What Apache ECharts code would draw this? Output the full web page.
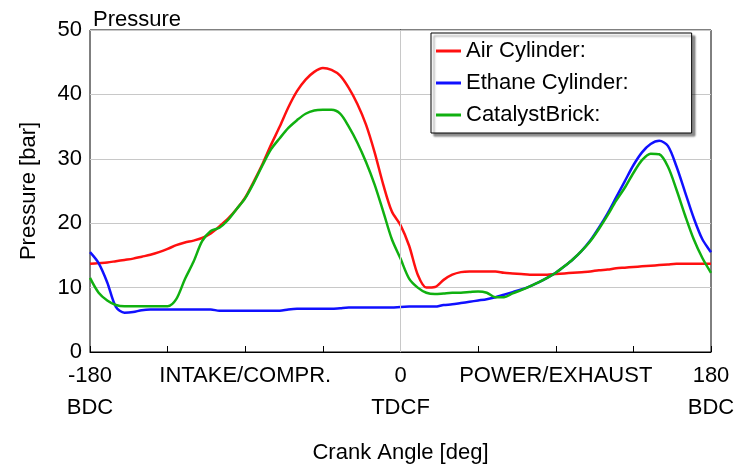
<!DOCTYPE html>
<html>
<head>
<meta charset="utf-8">
<script src="https://cdn.jsdelivr.net/npm/echarts@6/dist/echarts.min.js"></script>
<style>
  html, body { margin: 0; padding: 0; background: #fff; }
  #chart { width: 743px; height: 469px; }
</style>
</head>
<body>
<div id="chart"></div>
<script>
//crank angle, every 5 degrees
var angles = [];
for (var a = -180; a <= 180; a += 5) angles.push(a);

//pressure values [bar]
var airCylinder = [
    13.7, 13.8, 13.9, 14.1, 14.3, 14.5, 14.8, 15.1, 15.5, 16.0,
    16.6, 17.0, 17.3, 17.7, 18.4, 19.5, 20.7, 22.2, 24.0, 26.5,
    29.2, 32.2, 35.0, 38.0, 40.5, 42.3, 43.5, 44.1, 43.8, 42.9,
    41.0, 38.5, 35.3, 31.0, 26.0, 21.8, 19.7, 16.5, 12.0, 10.0,
    10.1, 11.2, 12.0, 12.4, 12.5, 12.5, 12.5, 12.5, 12.3, 12.2,
    12.1, 12.0, 12.0, 12.0, 12.1, 12.2, 12.3, 12.4, 12.5, 12.7,
    12.8, 13.0, 13.1, 13.2, 13.3, 13.4, 13.5, 13.6, 13.7, 13.7,
    13.7, 13.7, 13.7
];
var ethaneCylinder = [
    15.5, 13.8, 10.8, 7.0, 6.1, 6.2, 6.5, 6.6, 6.6, 6.6,
    6.6, 6.6, 6.6, 6.6, 6.6, 6.4, 6.4, 6.4, 6.4, 6.4,
    6.4, 6.4, 6.4, 6.6, 6.7, 6.7, 6.7, 6.7, 6.7, 6.8,
    6.9, 6.9, 6.9, 6.9, 6.9, 6.9, 7.0, 7.05, 7.05, 7.05,
    7.05, 7.3, 7.4, 7.6, 7.8, 8.0, 8.2, 8.5, 8.9, 9.3,
    9.7, 10.2, 10.8, 11.5, 12.3, 13.3, 14.4, 15.7, 17.3, 19.3,
    21.5, 24.0, 26.5, 29.0, 31.0, 32.3, 32.8, 32.0, 28.8, 24.8,
    20.8, 17.5, 15.5
];
var catalystBrick = [
    11.5, 9.2, 8.0, 7.3, 7.1, 7.1, 7.1, 7.1, 7.1, 7.1,
    8.2, 11.3, 14.0, 17.2, 18.8, 19.3, 20.5, 22.2, 23.9, 26.3,
    29.0, 31.5, 33.2, 34.8, 36.0, 37.0, 37.5, 37.6, 37.6, 37.0,
    35.0, 32.5, 29.5, 26.0, 21.8, 17.5, 14.5, 11.4, 10.0, 9.2,
    9.0, 9.1, 9.2, 9.2, 9.3, 9.4, 9.2, 8.5, 8.5, 9.1,
    9.6, 10.2, 10.8, 11.5, 12.3, 13.3, 14.4, 15.7, 17.2, 19.1,
    21.2, 23.5, 25.5, 27.8, 29.8, 30.8, 30.7, 28.8, 25.2, 21.2,
    17.5, 14.6, 12.3
];

//x axis tick labels
var tickLabels = {
    '-180': '-180\nBDC',
    '-90': 'INTAKE/COMPR.',
    '0': '0\nTDCF',
    '90': 'POWER/EXHAUST',
    '180': '180\nBDC'
};

var font = "'Liberation Sans', Arial, sans-serif";

function pairs(values) {
    return angles.map(function (a, i) { return [a, values[i]]; });
}

function lineSeries(name, color, values) {
    return {
        name: name,
        type: 'line',
        data: pairs(values),
        symbol: 'none',
        smooth: 0.3,
        color: color,
        lineStyle: { width: 2.5, color: color }
    };
}

var chart = echarts.init(document.getElementById('chart'));
var series = [
    lineSeries('Air Cylinder:', '#ff1010', airCylinder),
    lineSeries('Ethane Cylinder:', '#1010ff', ethaneCylinder),
    lineSeries('CatalystBrick:', '#10b010', catalystBrick)
];
//vertical grid line at TDC only
series[0].markLine = {
    silent: true,
    symbol: 'none',
    label: { show: false },
    lineStyle: { color: '#c8c8c8', width: 1, type: 'solid' },
    data: [{ xAxis: 0 }]
};

chart.setOption({
    animation: false,
    textStyle: { fontFamily: font },
    title: {
        text: 'Pressure',
        left: 88,
        top: 4,
        textStyle: { fontSize: 22, fontWeight: 'normal', color: '#000', fontFamily: font }
    },
    legend: {
        orient: 'vertical',
        left: 431,
        top: 33,
        padding: [7, 63, 7, 5],
        itemGap: 10,
        itemWidth: 25,
        itemHeight: 3,
        icon: 'rect',
        backgroundColor: '#fff',
        borderColor: '#000',
        borderWidth: 1,
        borderRadius: 0,
        shadowColor: 'rgba(0,0,0,0.45)',
        shadowBlur: 2,
        shadowOffsetX: 3,
        shadowOffsetY: 3,
        textStyle: { fontSize: 22, color: '#000', fontFamily: font, height: 22, lineHeight: 22 }
    },
    grid: {
        left: 90,
        right: 32,
        top: 30,
        bottom: 116,
        show: true,
        borderColor: '#000',
        borderWidth: 1
    },
    xAxis: {
        type: 'value',
        min: -180,
        max: 180,
        interval: 45,
        name: 'Crank Angle [deg]',
        nameLocation: 'middle',
        nameGap: 90,
        nameTextStyle: { fontSize: 22, color: '#000', fontFamily: font },
        axisLine: { lineStyle: { color: '#000', width: 1 } },
        axisTick: { inside: true, length: 6, lineStyle: { color: '#000' } },
        splitLine: { show: false },
        axisLabel: {
            fontSize: 22,
            color: '#000',
            margin: 8,
            lineHeight: 32,
            showMinLabel: true,
            showMaxLabel: true,
            formatter: function (v) {
                return tickLabels[String(v)] || '';
            }
        }
    },
    yAxis: {
        type: 'value',
        min: 0,
        max: 50,
        interval: 10,
        name: 'Pressure [bar]',
        nameLocation: 'middle',
        nameGap: 50,
        nameTextStyle: { fontSize: 22, color: '#000', fontFamily: font },
        axisLine: { show: true, lineStyle: { color: '#000', width: 1 } },
        axisTick: { show: false },
        splitLine: { lineStyle: { color: '#c8c8c8', width: 1 } },
        axisLabel: { fontSize: 22, color: '#000', margin: 8 }
    },
    series: series
});
</script>
</body>
</html>
